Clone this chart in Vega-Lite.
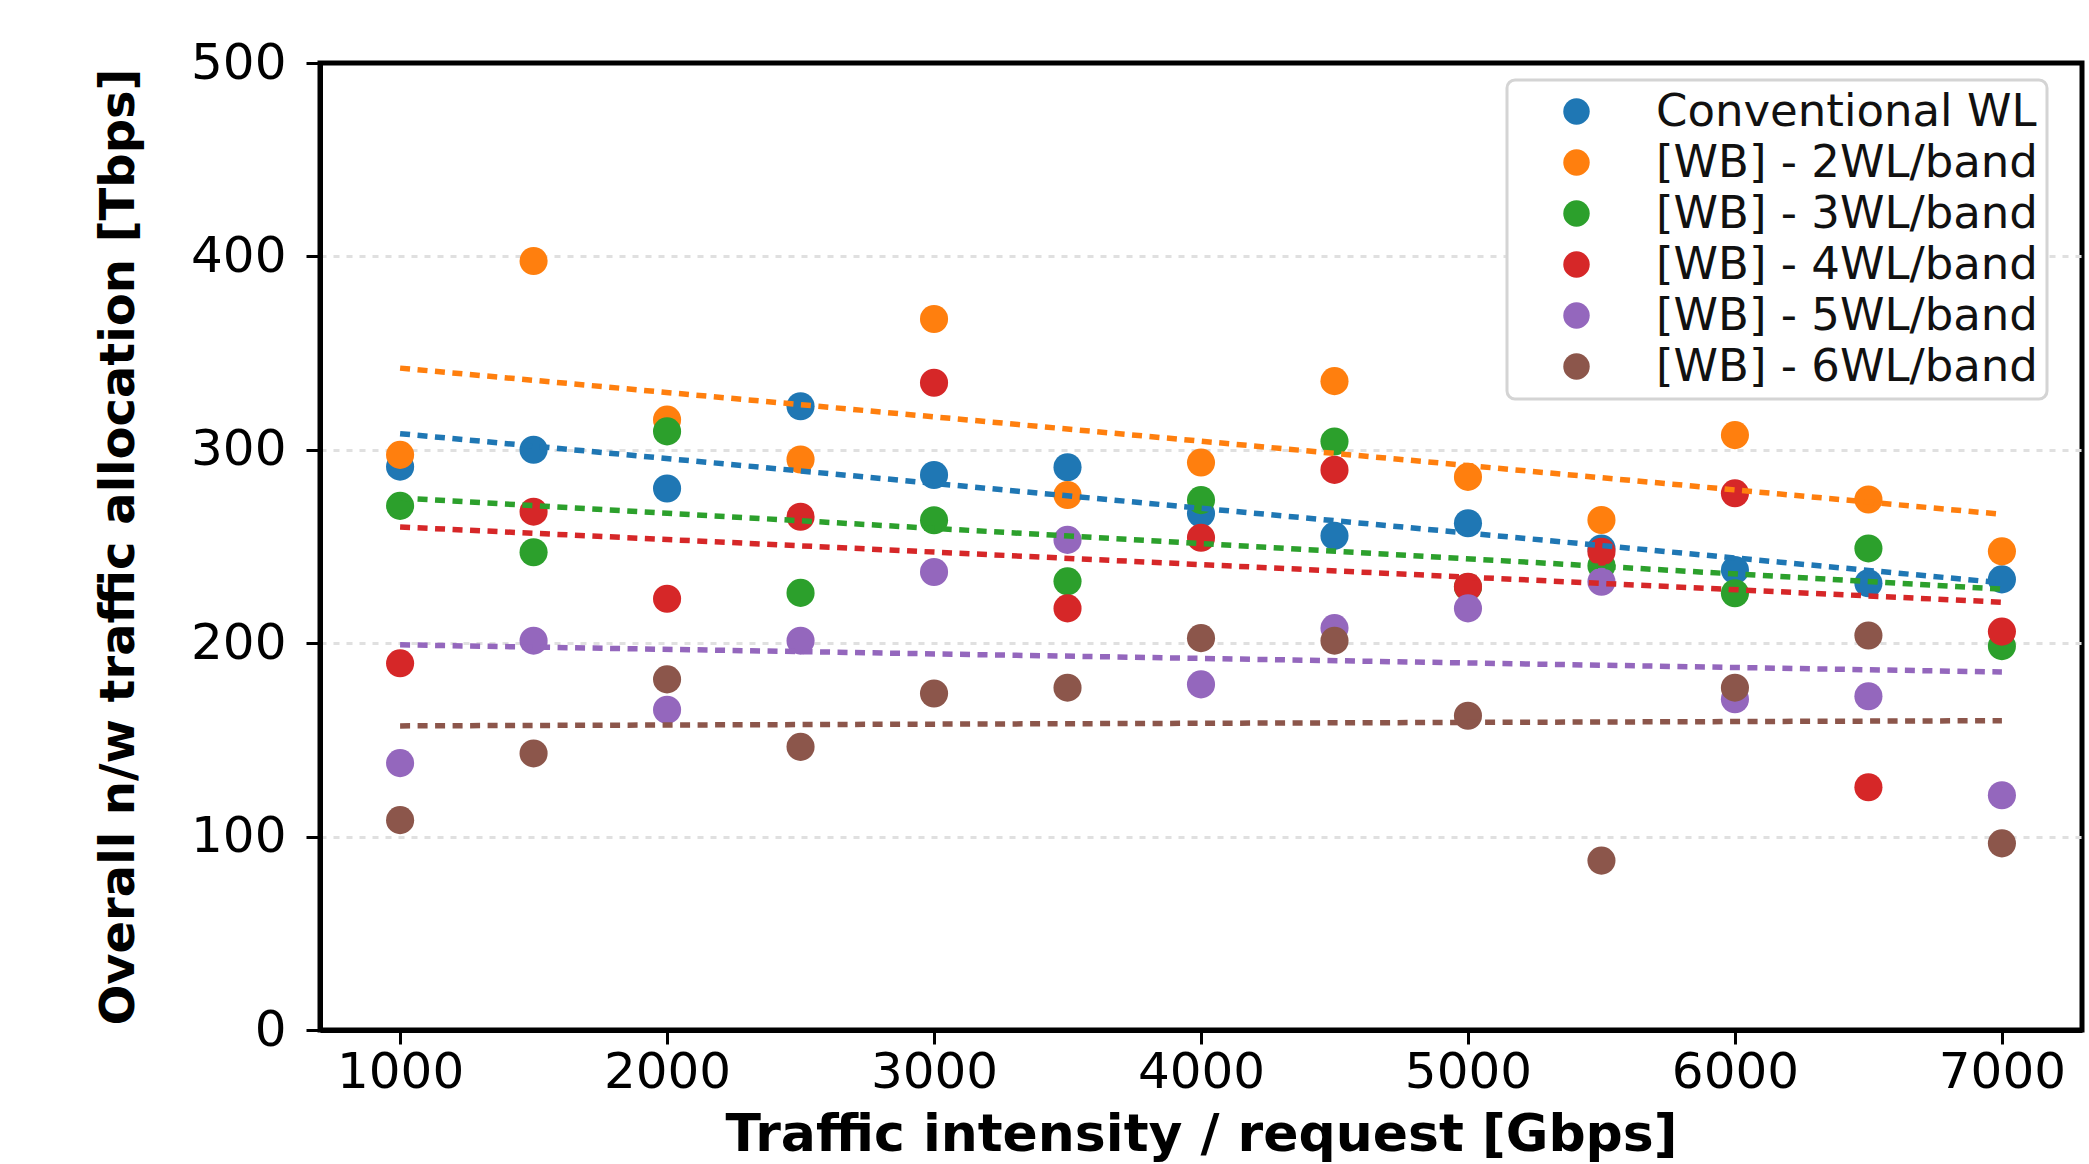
{
  "$schema": "https://vega.github.io/schema/vega-lite/v6.json",
  "width": 1762,
  "height": 967,
  "autosize": {"type": "none"},
  "padding": {"left": 320, "top": 63, "right": 7, "bottom": 134},
  "background": "white",
  "config": {
    "font": "DejaVu Sans",
    "view": {"stroke": "black", "strokeWidth": 5},
    "legend": {"strokeWidth": 3, "strokeColor": "#d4d4d4", "cornerRadius": 8, "fillColor": "white"}
  },
  "data": {
    "values": [
      {"s": "Conventional WL", "x": 1000, "y": 291.3},
      {"s": "Conventional WL", "x": 1500, "y": 300},
      {"s": "Conventional WL", "x": 2000, "y": 280},
      {"s": "Conventional WL", "x": 2500, "y": 322.5},
      {"s": "Conventional WL", "x": 3000, "y": 287},
      {"s": "Conventional WL", "x": 3500, "y": 291},
      {"s": "Conventional WL", "x": 4000, "y": 267},
      {"s": "Conventional WL", "x": 4500, "y": 255.5},
      {"s": "Conventional WL", "x": 5000, "y": 262},
      {"s": "Conventional WL", "x": 5500, "y": 249},
      {"s": "Conventional WL", "x": 6000, "y": 237.8},
      {"s": "Conventional WL", "x": 6500, "y": 231},
      {"s": "Conventional WL", "x": 7000, "y": 233},
      {"s": "[WB] - 2WL/band", "x": 1000, "y": 297.4},
      {"s": "[WB] - 2WL/band", "x": 1500, "y": 397.6},
      {"s": "[WB] - 2WL/band", "x": 2000, "y": 315.6},
      {"s": "[WB] - 2WL/band", "x": 2500, "y": 295},
      {"s": "[WB] - 2WL/band", "x": 3000, "y": 367.6},
      {"s": "[WB] - 2WL/band", "x": 3500, "y": 276.6},
      {"s": "[WB] - 2WL/band", "x": 4000, "y": 293.4},
      {"s": "[WB] - 2WL/band", "x": 4500, "y": 335.5},
      {"s": "[WB] - 2WL/band", "x": 5000, "y": 286},
      {"s": "[WB] - 2WL/band", "x": 5500, "y": 263.7},
      {"s": "[WB] - 2WL/band", "x": 6000, "y": 307.6},
      {"s": "[WB] - 2WL/band", "x": 6500, "y": 274.3},
      {"s": "[WB] - 2WL/band", "x": 7000, "y": 247.5},
      {"s": "[WB] - 3WL/band", "x": 1000, "y": 271},
      {"s": "[WB] - 3WL/band", "x": 1500, "y": 247},
      {"s": "[WB] - 3WL/band", "x": 2000, "y": 309.5},
      {"s": "[WB] - 3WL/band", "x": 2500, "y": 226},
      {"s": "[WB] - 3WL/band", "x": 3000, "y": 263.6},
      {"s": "[WB] - 3WL/band", "x": 3500, "y": 232},
      {"s": "[WB] - 3WL/band", "x": 4000, "y": 274},
      {"s": "[WB] - 3WL/band", "x": 4500, "y": 304.3},
      {"s": "[WB] - 3WL/band", "x": 5000, "y": 229},
      {"s": "[WB] - 3WL/band", "x": 5500, "y": 240},
      {"s": "[WB] - 3WL/band", "x": 6000, "y": 225.8},
      {"s": "[WB] - 3WL/band", "x": 6500, "y": 249},
      {"s": "[WB] - 3WL/band", "x": 7000, "y": 198.5},
      {"s": "[WB] - 4WL/band", "x": 1000, "y": 189.6},
      {"s": "[WB] - 4WL/band", "x": 1500, "y": 268},
      {"s": "[WB] - 4WL/band", "x": 2000, "y": 223},
      {"s": "[WB] - 4WL/band", "x": 2500, "y": 265.4},
      {"s": "[WB] - 4WL/band", "x": 3000, "y": 334.7},
      {"s": "[WB] - 4WL/band", "x": 3500, "y": 218},
      {"s": "[WB] - 4WL/band", "x": 4000, "y": 254.5},
      {"s": "[WB] - 4WL/band", "x": 4500, "y": 289.6},
      {"s": "[WB] - 4WL/band", "x": 5000, "y": 229.2},
      {"s": "[WB] - 4WL/band", "x": 5500, "y": 247.3},
      {"s": "[WB] - 4WL/band", "x": 6000, "y": 277.5},
      {"s": "[WB] - 4WL/band", "x": 6500, "y": 125.5},
      {"s": "[WB] - 4WL/band", "x": 7000, "y": 206},
      {"s": "[WB] - 5WL/band", "x": 1000, "y": 138},
      {"s": "[WB] - 5WL/band", "x": 1500, "y": 201.3},
      {"s": "[WB] - 5WL/band", "x": 2000, "y": 165.6},
      {"s": "[WB] - 5WL/band", "x": 2500, "y": 201.3},
      {"s": "[WB] - 5WL/band", "x": 3000, "y": 236.8},
      {"s": "[WB] - 5WL/band", "x": 3500, "y": 253.4},
      {"s": "[WB] - 5WL/band", "x": 4000, "y": 178.7},
      {"s": "[WB] - 5WL/band", "x": 4500, "y": 207.8},
      {"s": "[WB] - 5WL/band", "x": 5000, "y": 218},
      {"s": "[WB] - 5WL/band", "x": 5500, "y": 231.8},
      {"s": "[WB] - 5WL/band", "x": 6000, "y": 171},
      {"s": "[WB] - 5WL/band", "x": 6500, "y": 172.6},
      {"s": "[WB] - 5WL/band", "x": 7000, "y": 121.4},
      {"s": "[WB] - 6WL/band", "x": 1000, "y": 108.5},
      {"s": "[WB] - 6WL/band", "x": 1500, "y": 143},
      {"s": "[WB] - 6WL/band", "x": 2000, "y": 181.3},
      {"s": "[WB] - 6WL/band", "x": 2500, "y": 146.4},
      {"s": "[WB] - 6WL/band", "x": 3000, "y": 174},
      {"s": "[WB] - 6WL/band", "x": 3500, "y": 177},
      {"s": "[WB] - 6WL/band", "x": 4000, "y": 202.6},
      {"s": "[WB] - 6WL/band", "x": 4500, "y": 201.3},
      {"s": "[WB] - 6WL/band", "x": 5000, "y": 162.5},
      {"s": "[WB] - 6WL/band", "x": 5500, "y": 87.6},
      {"s": "[WB] - 6WL/band", "x": 6000, "y": 177},
      {"s": "[WB] - 6WL/band", "x": 6500, "y": 204},
      {"s": "[WB] - 6WL/band", "x": 7000, "y": 96.5}
    ]
  },
  "layer": [
    {
      "mark": {"type": "point", "shape": "circle", "filled": true, "opacity": 1, "size": 790},
      "encoding": {
        "x": {
          "field": "x", "type": "quantitative",
          "scale": {"domain": [700, 7300], "nice": false, "zero": false},
          "axis": {
            "title": "Traffic intensity / request [Gbps]",
            "values": [1000, 2000, 3000, 4000, 5000, 6000, 7000],
            "format": "d", "grid": false,
            "domainColor": "black", "domainWidth": 5,
            "tickColor": "black", "tickWidth": 3, "tickSize": 14,
            "labelFontSize": 50, "labelColor": "black", "labelPadding": 3,
            "titleFontSize": 52, "titleFontWeight": "bold", "titleColor": "black", "titlePadding": 12
          }
        },
        "y": {
          "field": "y", "type": "quantitative",
          "scale": {"domain": [0, 500], "nice": false},
          "axis": {
            "title": "Overall n/w traffic allocation [Tbps]",
            "values": [0, 100, 200, 300, 400, 500],
            "grid": true, "gridColor": "#e0e0e0", "gridWidth": 3, "gridDash": [6, 7],
            "gridOpacity": {"condition": {"test": "datum.value === 0 || datum.value === 500", "value": 0}, "value": 1},
            "domainColor": "black", "domainWidth": 5,
            "tickColor": "black", "tickWidth": 3, "tickSize": 14,
            "labelFontSize": 50, "labelColor": "black", "labelPadding": 20,
            "titleFontSize": 48, "titleFontWeight": "bold", "titleColor": "black", "titlePadding": 47
          }
        },
        "color": {
          "field": "s", "type": "nominal",
          "scale": {
            "domain": ["Conventional WL", "[WB] - 2WL/band", "[WB] - 3WL/band", "[WB] - 4WL/band", "[WB] - 5WL/band", "[WB] - 6WL/band"],
            "range": ["#1f77b4", "#ff7f0e", "#2ca02c", "#d62728", "#9467bd", "#8c564b"]
          },
          "legend": {
            "title": null,
            "orient": "none", "legendX": 1187, "legendY": 17,
            "symbolType": "circle", "symbolSize": 700, "symbolStrokeWidth": 0,
            "symbolOffset": 38, "labelOffset": 57, "labelLimit": 0,
            "labelFontSize": 45, "labelColor": "#111111",
            "padding": 9, "rowPadding": 5
          }
        }
      }
    },
    {
      "transform": [{"regression": "y", "on": "x", "groupby": ["s"], "extent": [1000, 7000]}],
      "mark": {"type": "line", "strokeDash": [10, 7.5], "strokeWidth": 5.5},
      "encoding": {
        "x": {"field": "x", "type": "quantitative", "title": "Traffic intensity / request [Gbps]"},
        "y": {"field": "y", "type": "quantitative", "title": "Overall n/w traffic allocation [Tbps]"},
        "color": {"field": "s", "type": "nominal", "legend": null}
      }
    }
  ]
}
